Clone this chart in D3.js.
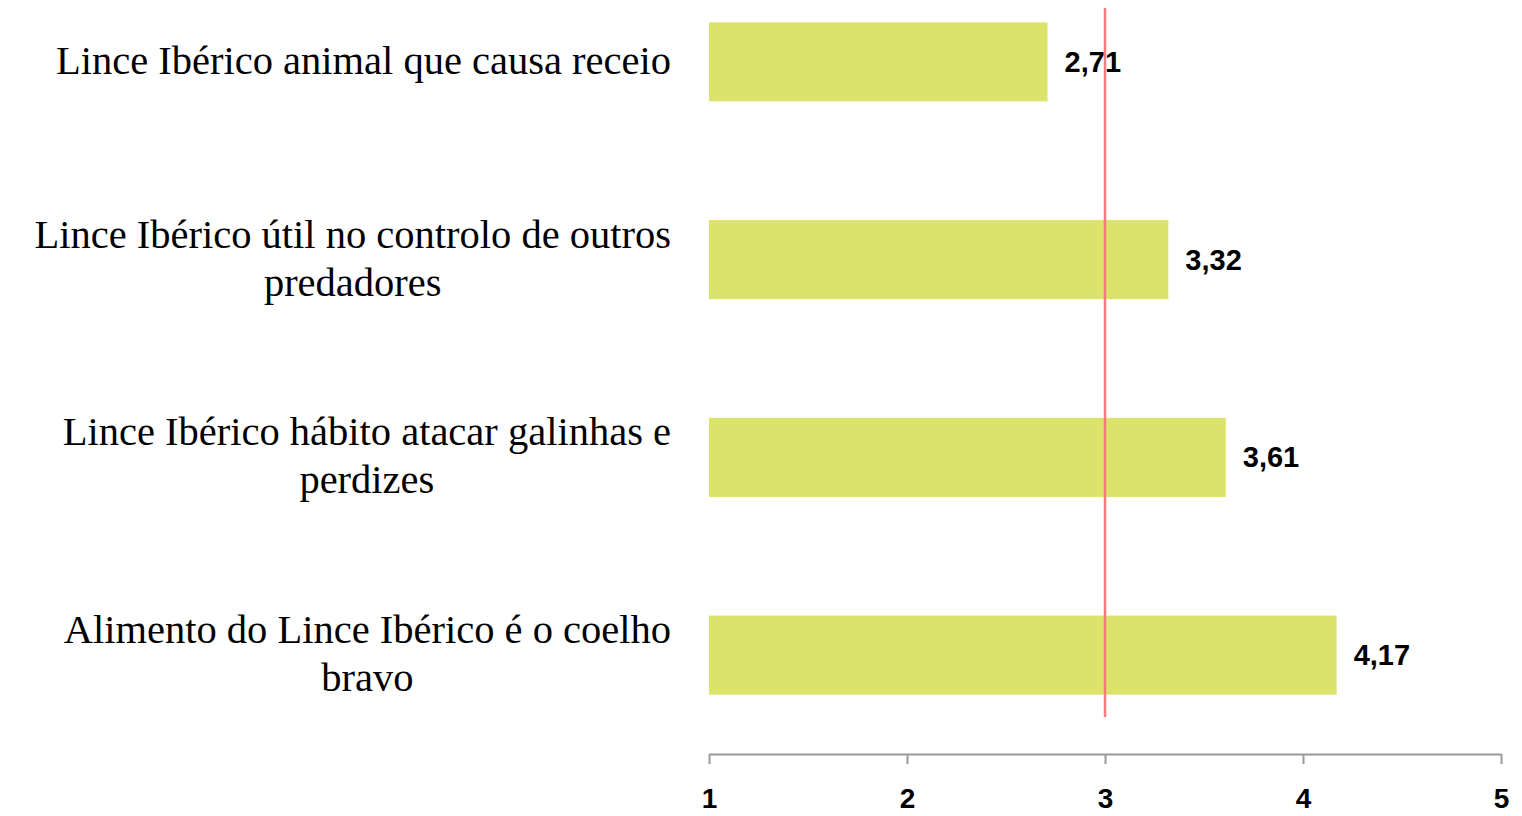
<!DOCTYPE html>
<html>
<head>
<meta charset="utf-8">
<script src="https://cdn.jsdelivr.net/npm/d3@7"></script>
<style>
  body { margin: 0; background: #fff; }
</style>
</head>
<body>
<div id="chart"></div>
<script>
// Data
const categories = [
  "Lince Ibérico animal que causa receio",
  "Lince Ibérico útil no controlo de outros\npredadores",
  "Lince Ibérico hábito atacar galinhas e\nperdizes",
  "Alimento do Lince Ibérico é o coelho\nbravo"
];
const values = [2.71, 3.32, 3.61, 4.17];
const valueLabels = ["2,71", "3,32", "3,61", "4,17"];
const xTicks = [1, 2, 3, 4, 5];
const refValue = 3;

const W = 1522, H = 816;
const svg = d3.select("#chart").append("svg")
  .attr("width", W)
  .attr("height", H);

const x = d3.scaleLinear().domain([1, 5]).range([709, 1501]);
const y = d3.scaleBand()
  .domain(categories)
  .range([-37, 754])
  .paddingInner(0.6)
  .paddingOuter(0.3);

// bars
svg.append("g")
  .selectAll("rect")
  .data(values)
  .join("rect")
  .attr("x", x(1))
  .attr("y", (d, i) => y(categories[i]))
  .attr("width", d => x(d) - x(1))
  .attr("height", y.bandwidth())
  .attr("fill", "#dce36a");

// value labels
svg.append("g")
  .selectAll("text")
  .data(values)
  .join("text")
  .attr("x", d => x(d) + 17)
  .attr("y", (d, i) => y(categories[i]) + y.bandwidth() / 2 + 10)
  .attr("font-family", "Liberation Sans, Arial, sans-serif")
  .attr("font-weight", "bold")
  .attr("font-size", 29)
  .attr("fill", "#000")
  .text((d, i) => valueLabels[i]);

// reference line
svg.append("line")
  .attr("x1", x(refValue))
  .attr("x2", x(refValue))
  .attr("y1", 8)
  .attr("y2", 717)
  .attr("stroke", "#f47c7c")
  .attr("stroke-width", 2.5);

// x axis
const axis = svg.append("g")
  .attr("transform", "translate(0,754)")
  .call(d3.axisBottom(x).tickValues(xTicks).tickSize(10).tickSizeOuter(0).tickPadding(24)
    .tickFormat(d3.format("d")));
axis.select(".domain").attr("stroke", "#999").attr("stroke-width", 2);
axis.selectAll(".tick line").attr("stroke", "#999").attr("stroke-width", 2);
axis.selectAll(".tick text")
  .attr("font-family", "Liberation Sans, Arial, sans-serif")
  .attr("font-weight", "bold")
  .attr("font-size", 28)
  .attr("fill", "#000");

// category labels, right aligned block, lines centred within it
const right = 671, lineH = 48;
const lab = svg.append("g");
categories.forEach(c => {
  const lines = c.split("\n");
  const cy = y(c) + y.bandwidth() / 2;
  const g = lab.append("g");
  const ts = lines.map((l, j) => g.append("text")
    .attr("y", cy + (j - (lines.length - 1) / 2) * lineH + 12)
    .attr("font-family", "Liberation Serif, Times New Roman, serif")
    .attr("font-size", 40.5)
    .attr("fill", "#000")
    .attr("text-anchor", "middle")
    .text(l));
  const maxW = d3.max(ts, t => t.node().getComputedTextLength());
  ts.forEach(t => t.attr("x", right - maxW / 2));
});
</script>
</body>
</html>
